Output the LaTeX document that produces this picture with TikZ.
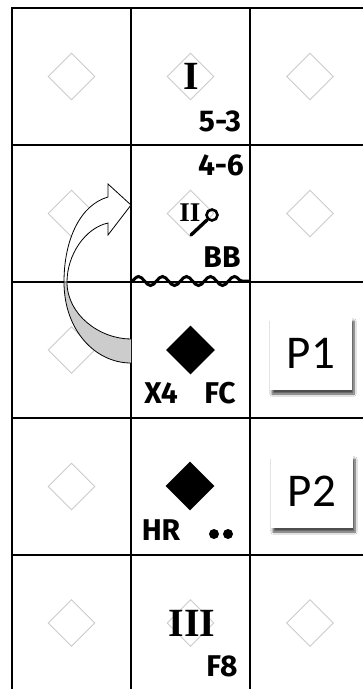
\documentclass[tikz,border=0pt]{standalone}
\usepackage{fontspec}
\setmainfont{Fira Sans}
\newfontfamily\romfont{Liberation Serif}
\newfontfamily\boxfont{Carlito}
\usetikzlibrary{shapes.geometric,decorations.pathmorphing,shadows.blur}

\begin{document}
\begin{tikzpicture}[x=1pt,y=-1pt,
  rule/.style={line width=2.6pt,line cap=rect},
  ghost/.style={diamond,draw=black!20,line width=0.9pt,minimum width=47pt,minimum height=47pt,inner sep=0pt},
  base/.style={diamond,fill=black,minimum width=49pt,minimum height=49pt,inner sep=0pt},
  tag/.style={font=\bfseries\fontsize{30}{30}\selectfont,inner sep=0pt},
  rom/.style={font=\romfont\bfseries\fontsize{40}{40}\selectfont,inner sep=0pt},
  pbox/.style={fill=white,minimum width=82pt,minimum height=73pt,inner sep=0pt,
    font=\boxfont\fontsize{47}{47}\selectfont,
    blur shadow={shadow xshift=2pt,shadow yshift=-4pt,shadow blur steps=8,shadow opacity=70}}]
  \useasboundingbox[fill=white] (0,0) rectangle (362,689);
  \foreach \n/\x/\y in {a1/71.5/76.5,a2/71.5/213.5,a3/71.5/350,a4/71.5/486.5,a5/71.5/623,
    b1/190.5/76.5,b2/190.5/213.5,b5/190.5/623,c1/310/76.5,c2/310/213.5,c5/310/623}
    \node[ghost] (\n) at (\x,\y) {};
  \foreach \x in {12,131,250,369}
    \draw[rule] (\x,8) -- (\x,700);
  \foreach \y in {8,145,282,418,555}
    \draw[rule] (12,\y) -- (380,\y);

  \fill[black!20] (67,282) .. controls (67,315) and (100,339) .. (131,339)
    -- (131,363) .. controls (95,363) and (64,330) .. (64,282) -- cycle;
  \draw[line width=0.8pt] (67,282) .. controls (67,315) and (100,339) .. (131,339);
  \draw[line width=0.8pt] (131,363) .. controls (95,363) and (64,330) .. (64,282);
  \filldraw[fill=white,line width=0.8pt,line join=miter] (64,282) .. controls (64,240) and (80,205) .. (108,197)
    -- (108,184) -- (131,205) -- (108,235) -- (108,223)
    .. controls (85,228) and (67,255) .. (67,282) -- cycle;

  \draw[line width=3pt,decorate,decoration={snake,segment length=24pt,amplitude=4.5pt}] (131,281) -- (250,281);

  \node[rom] (one) at (191,76) {I};
  \node[tag] (s1) at (220,121) {5-3};
  \node[tag] (c2) at (221,165) {4-6};
  \node[rom,font=\romfont\bfseries\fontsize{27}{27}\selectfont] (two) at (190,213) {II};
  \node[circle,draw,line width=2.6pt,minimum size=11pt,inner sep=0pt] (pin) at (212,215) {};
  \coordinate (pinend) at (191,235);
  \draw[line width=3.4pt,line cap=round] (pin.south west) -- (pinend);
  \node[tag] (s2) at (222,257) {BB};
  \node[base] (b3) at (190.5,350) {};
  \node[tag] (x3) at (161,393) {X4};
  \node[tag] (f3) at (220,393) {FC};
  \node[base] (b4) at (190,486) {};
  \node[tag] (h4) at (161,530) {HR};
  \fill (214,534) circle (5) (228,534) circle (5);
  \node[rom] (three) at (192,623) {III};
  \node[tag] (s5) at (222,666) {F8};
  \node[pbox] (p1) at (311,353.5) {P1};
  \node[pbox] (p2) at (312,491.5) {P2};
\end{tikzpicture}
\end{document}
